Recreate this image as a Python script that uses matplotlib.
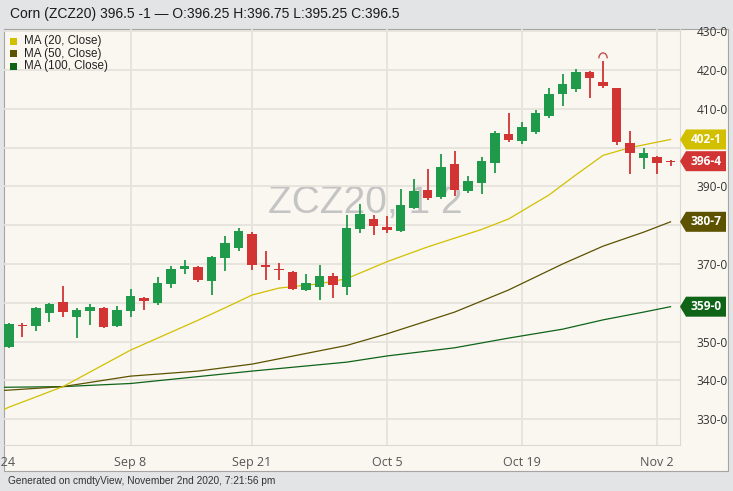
import matplotlib
matplotlib.use("Agg")
import matplotlib.pyplot as plt
from matplotlib.patches import Rectangle, Polygon, Arc

# daily candles Aug 25 .. Nov 3 2020 (index 0..49)
opens = [348.7, 354.4, 354.0, 357.5, 360.1, 356.3, 358.0, 358.6, 353.9, 357.9,
         361.2, 359.9, 364.9, 368.6, 369.2, 365.5, 371.6, 374.2, 377.7, 369.8,
         368.7, 368.0, 363.3, 364.2, 366.9, 364.2, 378.9, 381.5, 379.6, 378.6,
         384.5, 389.1, 387.2, 395.7, 388.9, 391.0, 396.0, 403.4, 401.7, 404.1,
         408.1, 413.7, 415.0, 419.4, 416.8, 415.3, 401.1, 397.2, 396.0, 396.25]
highs = [354.9, 354.9, 359.0, 360.0, 364.3, 358.7, 359.6, 359.0, 359.3, 363.6,
         361.4, 366.7, 369.5, 371.0, 369.5, 372.0, 377.2, 379.2, 378.2, 373.4,
         370.3, 368.2, 367.4, 369.7, 367.6, 382.6, 385.4, 382.6, 382.5, 389.3,
         392.0, 394.4, 398.3, 399.2, 392.7, 397.5, 404.3, 409.0, 406.7, 409.7,
         415.3, 418.9, 420.2, 419.7, 422.3, 415.4, 404.3, 399.8, 397.75, 396.75]
lows = [348.3, 351.3, 352.7, 355.1, 356.3, 351.0, 354.3, 353.4, 353.8, 356.4,
        358.1, 359.4, 363.9, 367.4, 365.3, 362.0, 368.2, 373.4, 368.4, 365.9,
        365.9, 363.3, 363.0, 360.7, 361.2, 362.0, 378.1, 377.5, 377.9, 378.3,
        384.1, 386.5, 386.8, 387.5, 388.2, 388.0, 393.5, 401.5, 400.9, 403.4,
        407.7, 410.8, 414.3, 412.9, 415.4, 400.7, 393.1, 394.4, 393.1, 395.25]
closes = [354.5, 353.9, 358.7, 359.6, 357.7, 358.1, 358.9, 353.7, 358.1, 361.8,
          360.4, 365.1, 368.7, 369.6, 366.0, 371.8, 375.3, 378.6, 369.7, 369.2,
          368.4, 363.5, 365.2, 366.8, 364.7, 379.2, 382.8, 379.8, 378.8, 385.1,
          388.8, 386.9, 395.1, 389.1, 391.4, 396.6, 403.8, 402.0, 405.4, 408.8,
          413.8, 416.3, 419.4, 417.9, 416.0, 401.5, 398.5, 398.7, 397.5, 396.5]

tick_idx = [9, 18, 28, 38, 48]
tick_lbl = ["Sep 8", "Sep 21", "Oct 5", "Oct 19", "Nov 2"]

# moving averages at some candles
ma20_idx = [-1, 0, 4, 9, 14, 16, 18, 20, 23, 25, 28, 31, 35, 37, 40, 42, 44, 46, 48, 49]
ma20 = [331.5, 333.1, 338.4, 347.8, 355.5, 358.7, 362.0, 363.8, 364.9, 366.2,
        370.6, 374.4, 378.9, 381.6, 387.8, 393.0, 398.0, 400.0, 401.4, 402.1]
ma50_idx = [-1, 0, 4, 9, 14, 18, 25, 28, 33, 37, 41, 44, 47, 49]
ma50 = [337.3, 337.5, 338.4, 341.1, 342.4, 344.2, 349.0, 352.0, 357.6, 363.3,
        370.0, 374.6, 378.2, 380.875]
ma100_idx = [-1, 4, 9, 18, 25, 28, 33, 37, 41, 44, 47, 49]
ma100 = [338.2, 338.4, 339.2, 342.4, 344.7, 346.3, 348.4, 350.9, 353.2, 355.6,
         357.6, 359.0]

UP = "#1f9a4a"
DOWN = "#d23434"
C20 = "#d2c000"
C50 = "#5c5200"
C100 = "#0f6418"

W, H = 733, 491
fig = plt.figure(figsize=(W / 100, H / 100), dpi=100)
fig.patch.set_facecolor("#e3e4e6")

def fx(px):
    return px / W

def fy(py):
    return 1 - py / H

# chart panel
fig.add_artist(Rectangle((fx(4), fy(471)), fx(728) - fx(4), fy(29) - fy(471),
                         transform=fig.transFigure, facecolor="#faf7f1",
                         edgecolor="#a4a4a4", lw=0.8, zorder=-10))

ax = fig.add_axes([fx(4), fy(445), fx(680) - fx(4), fy(29) - fy(445)])
ax.set_facecolor("none")
ax.set_xlim(-0.37, 49.7)
ax.set_ylim(323.35, 430.57)

for s in ["left", "top"]:
    ax.spines[s].set_visible(False)
for s in ["right", "bottom"]:
    ax.spines[s].set_color("#dcd8d2")

# price tags on the right axis cover some tick labels
tags = [(ma20[-1], C20), (closes[-1], DOWN), (ma50[-1], C50), (ma100[-1], C100)]
levels = list(range(330, 431, 10))
ax.set_yticks(levels)
ax.set_yticklabels(["" if any(abs(v - t) < 3.2 for t, _ in tags) else f"{v}-0"
                    for v in levels])
ax.yaxis.tick_right()
ax.set_xticks(tick_idx)
ax.set_xticklabels(tick_lbl)
ax.tick_params(axis="y", length=0, pad=12, labelsize=8.6, labelcolor="#333333")
ax.tick_params(axis="x", length=0, pad=8, labelsize=9, labelcolor="#555555")
for t in ax.get_xticklabels() + ax.get_yticklabels():
    t.set_fontfamily("Open Sans")
ax.grid(True, color="#e6e2dc", lw=1.3)
ax.set_axisbelow(True)
ax.text(-1, -0.026, "Aug 24", transform=ax.get_xaxis_transform(), ha="center",
        va="top", fontsize=9, color="#555555", family="Open Sans", clip_on=False)

# watermark
ax.text(26.4, 385.7, "ZCZ20, 1 2", ha="center", va="center", fontsize=28,
        color="#c4c4c4", family="Liberation Sans", zorder=0.5)

# moving averages
ax.plot(ma100_idx, ma100, color=C100, lw=0.9, zorder=1)
ax.plot(ma50_idx, ma50, color=C50, lw=0.9, zorder=1)
ax.plot(ma20_idx, ma20, color=C20, lw=0.9, zorder=1)

# candles, coloured by close vs previous close
prev = [opens[0]] + closes[:-1]
cols = [UP if c >= p else DOWN for c, p in zip(closes, prev)]
xs = list(range(len(closes)))
ax.vlines(xs, lows, highs, colors=cols, lw=1.3, zorder=2)
bottoms = [min(o, c) for o, c in zip(opens, closes)]
heights = [max(abs(c - o), 0.35) for o, c in zip(opens, closes)]
ax.bar(xs, heights, bottom=bottoms, width=0.7, color=cols, zorder=3)

# high marker over the top candle
hi = highs.index(max(highs))
ax.add_patch(Arc((hi, highs[hi] + 0.7), 0.62, 2.8, theta1=0, theta2=180,
                 color="#c05050", lw=1.0, zorder=4))

def eighths(v):
    whole = int(v)
    return f"{whole}-{int(round((v - whole) * 8))}"

ytr = ax.get_yaxis_transform()
aw = 676.0
h = 10 / 3.88
for v, c in tags:
    pts = [(1.0, v), (1 + 6 / aw, v + h), (1 + 46 / aw, v + h),
           (1 + 46 / aw, v - h), (1 + 6 / aw, v - h)]
    ax.add_patch(Polygon(pts, closed=True, transform=ytr, facecolor=c,
                         edgecolor="none", clip_on=False, zorder=6))
    ax.text(1 + 26 / aw, v, eighths(v), transform=ytr, ha="center", va="center",
            color="white", fontsize=8.6, fontweight="bold", family="Open Sans",
            clip_on=False, zorder=7)

# legend
legend = [("MA (20, Close)", C20), ("MA (50, Close)", C50), ("MA (100, Close)", C100)]
for k, (name, c) in enumerate(legend):
    yc = 41 + k * 12.5
    fig.add_artist(Rectangle((fx(10), fy(yc + 3.5)), fx(7), 7 / H,
                             transform=fig.transFigure, facecolor=c,
                             edgecolor="none"))
    fig.text(fx(24), fy(yc), name, fontsize=8.4, va="center", color="#222222",
             family="Liberation Sans")

fig.text(fx(10), fy(14), "Corn (ZCZ20) 396.5 -1 \u2014 O:396.25 H:396.75 L:395.25 C:396.5",
         fontsize=10, va="center", color="#1a1a1a", family="Liberation Sans")
fig.text(fx(8), fy(481), "Generated on cmdtyView, November 2nd 2020, 7:21:56 pm",
         fontsize=7.3, va="center", color="#333333", family="Liberation Sans")

fig.savefig("out.png", dpi=100, facecolor=fig.get_facecolor())
